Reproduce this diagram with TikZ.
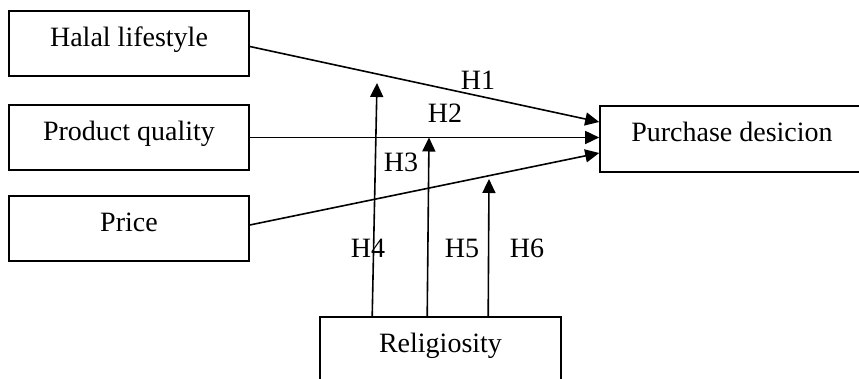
\documentclass[tikz,border=0pt]{standalone}
\usepackage{fontspec}
\setmainfont{Liberation Serif}
\usepackage{tikz}
\usetikzlibrary{arrows.meta,calc}

\tikzset{
  box/.style={draw=black, line width=0.8pt, inner sep=0pt, minimum width=120pt, minimum height=32.5pt, text height=11.5pt, text depth=8.5pt},
  arr/.style={draw=black, line width=0.8pt, -{Triangle[length=7pt,width=6.5pt]}},
  hlabel/.style={inner sep=0pt}
}

\begin{document}
\begin{tikzpicture}[x=0.5pt,y=-0.5pt,font=\fontsize{14}{16}\selectfont]
            \useasboundingbox (0,0) rectangle (859,379);
            % boxes
            \node [box] (halal) at (129,43.5) {Halal lifestyle};
            \node [box] (product) at (129,137.5) {Product quality};
            \node [box] (price) at (129,228.5) {Price};
            \node [box, minimum width=132pt, minimum height=33pt] (purchase) at (732,139) {Purchase desicion};
            \node [box, minimum width=120.5pt] (relig) at (440.5,349.5) {Religiosity};
            % direct paths
            \draw [arr] ($(halal.east)+(0,3)$) -- ($(purchase.west)+(0,-17)$);
            \draw [arr] (product.east) -- (product.east -| purchase.west);
            \draw [arr] ($(price.east)+(0,-3.5)$) -- ($(purchase.west)+(0,14)$);
            % moderating paths
            \coordinate (t4) at (377,83);
            \coordinate (t5) at (429,137.5);
            \coordinate (t6) at (489,179);
            \draw [arr] ($(relig.north west)+(53,0)$) -- (t4);
            \draw [arr] ($(relig.north west)+(108,0)$) -- (t5);
            \draw [arr] ($(relig.north west)+(169,0)$) -- (t6);
            % labels
            \node [hlabel] (h1) at (478,80) {H1};
            \node [hlabel] (h2) at (445,113) {H2};
            \node [hlabel] (h3) at (401,162) {H3};
            \node [hlabel] (h4) at (368,248) {H4};
            \node [hlabel] (h5) at (462,248) {H5};
            \node [hlabel] (h6) at (527,248) {H6};
\end{tikzpicture}
\end{document}
